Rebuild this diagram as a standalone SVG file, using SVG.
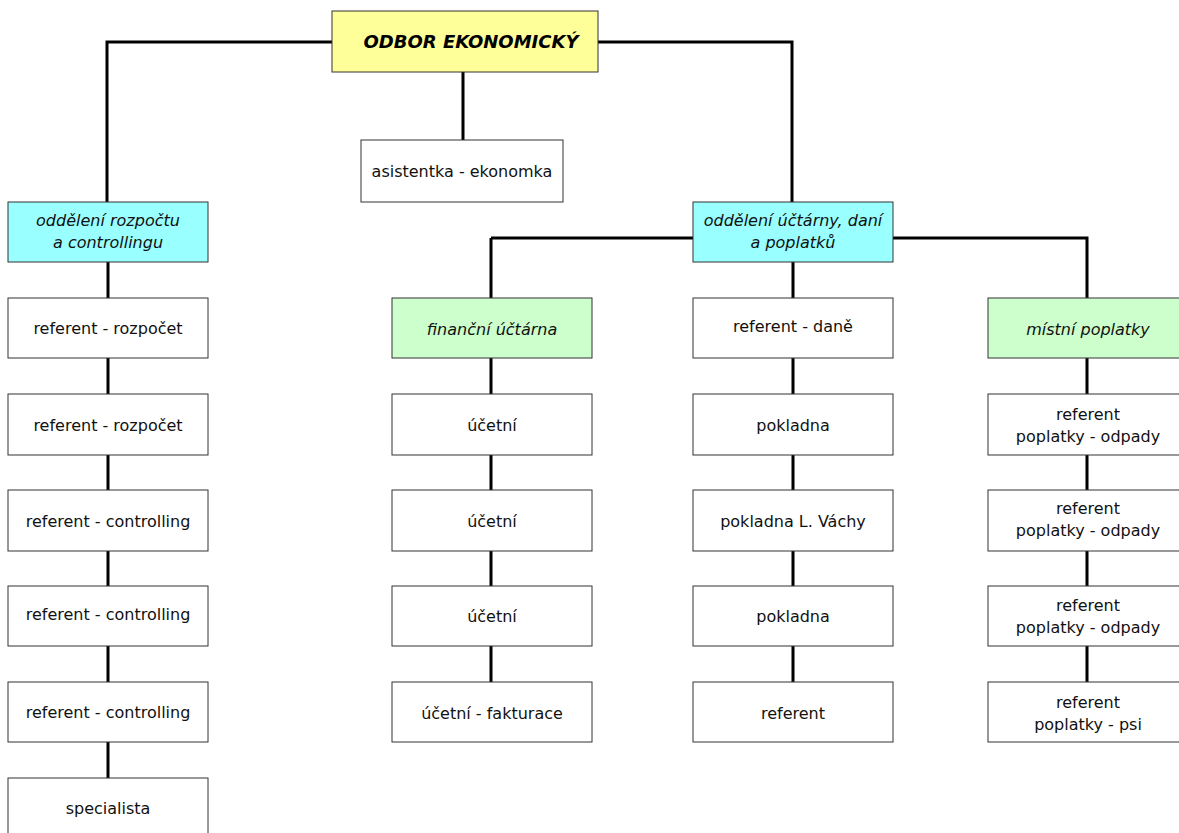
<svg xmlns="http://www.w3.org/2000/svg" width="1179" height="833" viewBox="0 0 1179 833">
<style>
.b{fill:#fff;stroke:#333;stroke-width:1}
.y{fill:#ffff99;stroke:#333;stroke-width:1}
.c{fill:#99ffff;stroke:#333;stroke-width:1}
.g{fill:#ccffcc;stroke:#333;stroke-width:1}
text{font-family:"DejaVu Sans",Verdana,sans-serif;font-size:16px;fill:#111;text-anchor:middle}
.i{font-style:italic}
.t{font-weight:bold;font-style:italic;font-size:18px;fill:#000}
.ln{fill:none;stroke:#000;stroke-width:3}
</style>
<g id="connectors">
<path class="ln" d="M332 42H107V202M598 42H792V202M463 72V140"/>
<path class="ln" d="M108 262V778"/>
<path class="ln" d="M491 238H1087V298M491 238V298M491 358V682"/>
<path class="ln" d="M793 262V682"/>
<path class="ln" d="M1087 358V682"/>
</g>
<g id="n-top"><rect class="y" x="332" y="11" width="266" height="61"/><text class="t" x="471" y="48">ODBOR EKONOMICKÝ</text></g>
<g id="n-asist"><rect class="b" x="361" y="140" width="202" height="62"/><text x="462" y="177">asistentka - ekonomka</text></g>
<g id="n-rozp"><rect class="c" x="8" y="202" width="200" height="60"/><text class="i" x="108" y="226">oddělení rozpočtu</text><text class="i" x="108" y="248">a controllingu</text></g>
<g id="n-l1"><rect class="b" x="8" y="298" width="200" height="60"/><text x="108" y="334">referent - rozpočet</text></g>
<g id="n-l2"><rect class="b" x="8" y="394" width="200" height="61"/><text x="108" y="431">referent - rozpočet</text></g>
<g id="n-l3"><rect class="b" x="8" y="490" width="200" height="61"/><text x="108" y="527">referent - controlling</text></g>
<g id="n-l4"><rect class="b" x="8" y="586" width="200" height="60"/><text x="108" y="620">referent - controlling</text></g>
<g id="n-l5"><rect class="b" x="8" y="682" width="200" height="60"/><text x="108" y="718">referent - controlling</text></g>
<g id="n-l6"><rect class="b" x="8" y="778" width="200" height="70"/><text x="108" y="814">specialista</text></g>
<g id="n-ucta"><rect class="c" x="693" y="202" width="200" height="60"/><text class="i" x="793" y="226">oddělení účtárny, daní</text><text class="i" x="793" y="248">a poplatků</text></g>
<g id="n-fin"><rect class="g" x="392" y="298" width="200" height="60"/><text class="i" x="492" y="335">finanční účtárna</text></g>
<g id="n-f1"><rect class="b" x="392" y="394" width="200" height="61"/><text x="492" y="431">účetní</text></g>
<g id="n-f2"><rect class="b" x="392" y="490" width="200" height="61"/><text x="492" y="527">účetní</text></g>
<g id="n-f3"><rect class="b" x="392" y="586" width="200" height="60"/><text x="492" y="622">účetní</text></g>
<g id="n-f4"><rect class="b" x="392" y="682" width="200" height="60"/><text x="492" y="719">účetní - fakturace</text></g>
<g id="n-d1"><rect class="b" x="693" y="298" width="200" height="60"/><text x="793" y="332">referent - daně</text></g>
<g id="n-d2"><rect class="b" x="693" y="394" width="200" height="61"/><text x="793" y="431">pokladna</text></g>
<g id="n-d3"><rect class="b" x="693" y="490" width="200" height="61"/><text x="793" y="527">pokladna L. Váchy</text></g>
<g id="n-d4"><rect class="b" x="693" y="586" width="200" height="60"/><text x="793" y="622">pokladna</text></g>
<g id="n-d5"><rect class="b" x="693" y="682" width="200" height="60"/><text x="793" y="719">referent</text></g>
<g id="n-mp"><rect class="g" x="988" y="298" width="200" height="60"/><text class="i" x="1088" y="335">místní poplatky</text></g>
<g id="n-p1"><rect class="b" x="988" y="394" width="200" height="61"/><text x="1088" y="420">referent</text><text x="1088" y="442">poplatky - odpady</text></g>
<g id="n-p2"><rect class="b" x="988" y="490" width="200" height="61"/><text x="1088" y="514">referent</text><text x="1088" y="536">poplatky - odpady</text></g>
<g id="n-p3"><rect class="b" x="988" y="586" width="200" height="60"/><text x="1088" y="611">referent</text><text x="1088" y="633">poplatky - odpady</text></g>
<g id="n-p4"><rect class="b" x="988" y="682" width="200" height="60"/><text x="1088" y="708">referent</text><text x="1088" y="730">poplatky - psi</text></g>
</svg>
